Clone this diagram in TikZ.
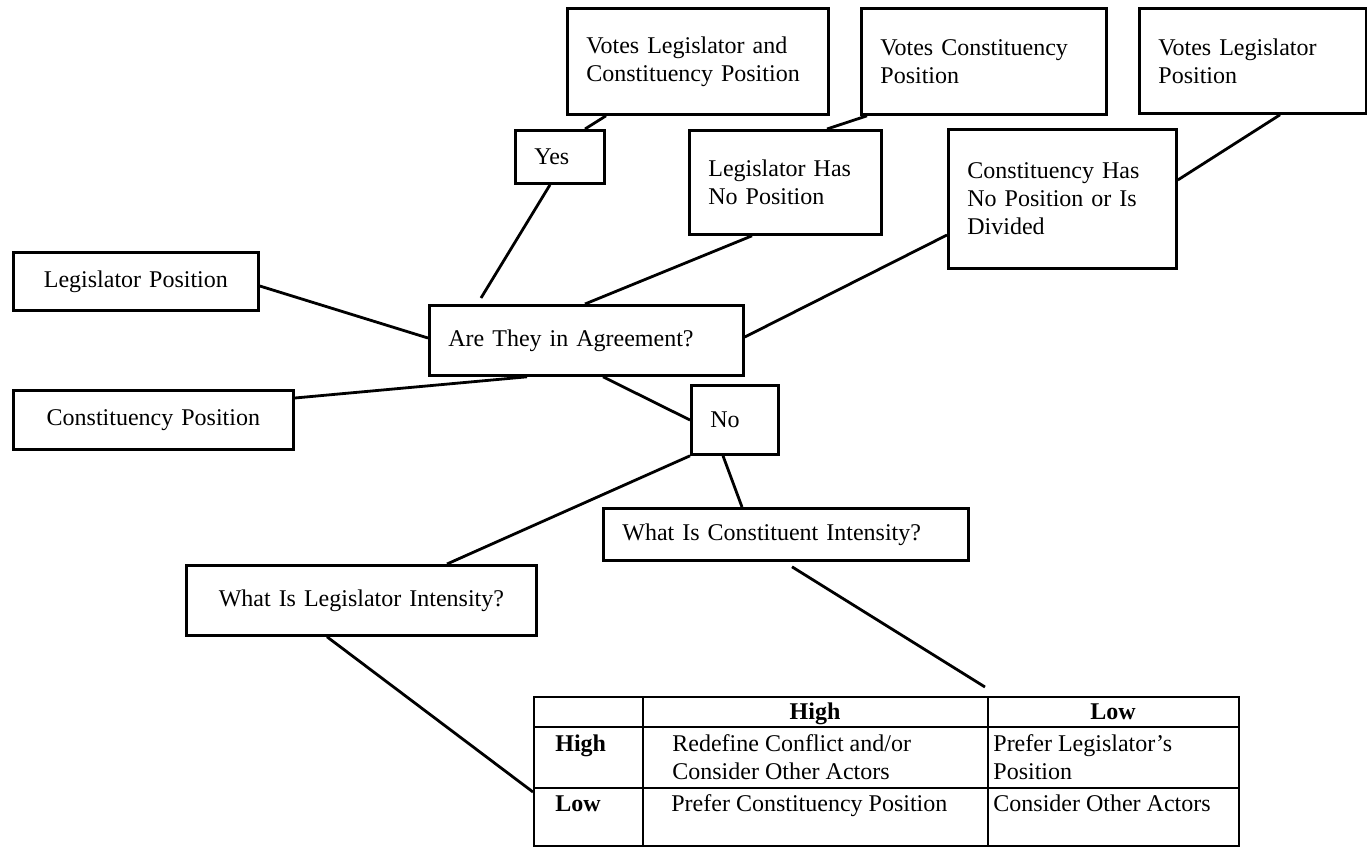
\documentclass[tikz,border=0pt]{standalone}
\usepackage{fontspec}
\setmainfont{Liberation Serif}
\usepackage{tikz}
\usetikzlibrary{positioning}

\begin{document}
\begin{tikzpicture}[x=0.5pt, y=-0.5pt,
  box/.style={draw, line width=1.4pt, anchor=north west, inner xsep=9.5pt, inner ysep=0pt,
    align=left, font=\fontsize{12}{14}\selectfont},
  cbox/.style={box, align=center},
  link/.style={line width=1.4pt},
  rule/.style={line width=0.8pt},
  cell/.style={anchor=base west, inner sep=0pt, align=left, font=\fontsize{12}{14}\selectfont},
  head/.style={cell, anchor=base, font=\fontsize{12}{14}\selectfont\bfseries}]

\useasboundingbox (0,0) rectangle (1367,847);

% Outcome boxes along the top
\node[box, text width=111.5pt, minimum height=53pt] (vboth) at (566,7) {Votes Legislator and\\Constituency Position};
\node[box, text width=103.5pt, minimum height=53pt] (vcon) at (860,7) {Votes Constituency\\Position};
\node[box, text width=94.5pt, minimum height=52.5pt] (vleg) at (1138,7) {Votes Legislator\\Position};

% Second row
\node[box, text width=25.5pt, minimum height=26.5pt] (yes) at (514,129) {Yes};
\node[box, text width=77pt, minimum height=52pt] (leghas) at (688,129) {Legislator Has\\No Position};
\node[box, text width=95pt, minimum height=69.5pt] (conhas) at (947,128) {Constituency Has\\No Position or Is\\Divided};

% Inputs and the question
\node[cbox, text width=103.5pt, minimum height=29pt] (legpos) at (12,251) {Legislator Position};
\node[cbox, text width=121pt, minimum height=29.5pt] (conpos) at (12,389) {Constituency Position};
\node[box, text width=138pt, minimum height=35pt] (agree) at (428,304) {Are They in Agreement?};
\node[box, text width=24.5pt, minimum height=34.5pt] (no) at (690,384) {No};

% Intensity questions
\node[cbox, text width=156pt, minimum height=35pt] (legint) at (185,564) {What Is Legislator Intensity?};
\node[box, text width=163.5pt, minimum height=26pt] (conint) at (602,507) {What Is Constituent Intensity?};

% Outcome table
\node[draw, line width=1.2pt, anchor=north west, minimum width=352.5pt, minimum height=74.5pt, inner sep=0pt] (tab) at (533,696) {};
\draw[rule] (643,696) -- (643,845);
\draw[rule] (988,696) -- (988,845);
\draw[rule] (533,727) -- (1238,727);
\draw[rule] (533,788) -- (1238,788);

\node[head] (hhigh) at (815,719) {High};
\node[head] (hlow) at (1113,719) {Low};
\node[cell, font=\fontsize{12}{14}\selectfont\bfseries] (rhigh) at (555,751) {High};
\node[cell, font=\fontsize{12}{14}\selectfont\bfseries] (rlow) at (555,811) {Low};
\node[cell] (hh) at (672,779) {Redefine Conflict and/or\\Consider Other Actors};
\node[cell] (hl) at (993,779) {Prefer Legislator’s\\Position};
\node[cell] (lh) at (671,811) {Prefer Constituency Position};
\node[cell] (ll) at (993,811) {Consider Other Actors};

% Connectors
\draw[link] ([xshift=20pt]vboth.south west) -- ([xshift=35.5pt]yes.north west);
\draw[link] ([xshift=18pt]yes.south west) -- ([xshift=26.5pt, yshift=3pt]agree.north west);
\draw[link] ([xshift=3.5pt]vcon.south west) -- ([xshift=69.5pt]leghas.north west);
\draw[link] ([xshift=32pt]leghas.south west) -- ([xshift=78.5pt]agree.north west);
\draw[link] ([xshift=71pt]vleg.south west) -- ([yshift=-26pt]conhas.north east);
\draw[link] ([yshift=-53.5pt]conhas.north west) -- ([yshift=-16.5pt]agree.north east);
\draw[link] ([yshift=-17.5pt]legpos.north east) -- ([yshift=-17pt]agree.north west);
\draw[link] ([yshift=-4.5pt]conpos.north east) -- ([xshift=49.5pt]agree.south west);
\draw[link] ([xshift=87.5pt]agree.south west) -- ([yshift=-18pt]no.north west);
\draw[link] (no.south west) -- ([xshift=131pt]legint.north west);
\draw[link] ([xshift=16.5pt]no.south west) -- ([xshift=70pt]conint.north west);
\draw[link] ([xshift=71pt]legint.south west) -- ([yshift=-48pt]tab.north west);
\draw[link] ([xshift=95pt, yshift=-2.5pt]conint.south west) -- ([xshift=226pt, yshift=4.5pt]tab.north west);

\end{tikzpicture}
\end{document}
